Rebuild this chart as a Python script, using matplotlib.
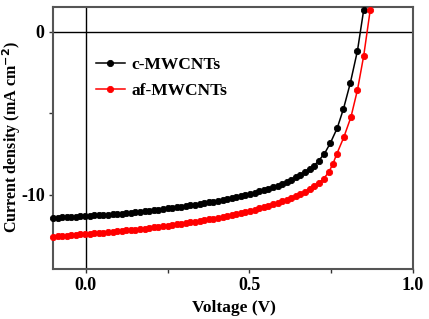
import matplotlib
matplotlib.use("Agg")
import matplotlib.pyplot as plt
from matplotlib.ticker import FixedLocator

plt.rcParams['font.family'] = ['Liberation Serif', 'DejaVu Serif']
plt.rcParams['font.weight'] = 'bold'
plt.rcParams['mathtext.default'] = 'bf'

# Data
v_c = [-0.100, -0.086, -0.072, -0.058, -0.044, -0.030, -0.016, -0.002, 0.012, 0.026,
       0.040, 0.054, 0.068, 0.082, 0.096, 0.110, 0.124, 0.138, 0.152, 0.166,
       0.180, 0.194, 0.208, 0.222, 0.236, 0.250, 0.264, 0.278, 0.292, 0.306,
       0.320, 0.334, 0.348, 0.362, 0.376, 0.390, 0.404, 0.418, 0.432, 0.446,
       0.460, 0.474, 0.488, 0.502, 0.516, 0.530, 0.544, 0.558, 0.572, 0.586,
       0.600, 0.614, 0.628, 0.642, 0.656, 0.670, 0.684, 0.698, 0.711, 0.729,
       0.747, 0.768, 0.787, 0.808, 0.830, 0.849]
j_c = [-11.41, -11.40, -11.38, -11.37, -11.35, -11.34, -11.32, -11.30, -11.29, -11.27,
       -11.25, -11.23, -11.21, -11.19, -11.17, -11.15, -11.12, -11.10, -11.07, -11.04,
       -11.01, -10.98, -10.95, -10.91, -10.88, -10.84, -10.81, -10.77, -10.73, -10.69,
       -10.65, -10.61, -10.56, -10.52, -10.47, -10.42, -10.37, -10.32, -10.26, -10.20,
       -10.14, -10.08, -10.01, -9.94, -9.87, -9.79, -9.71, -9.62, -9.53, -9.43,
       -9.32, -9.20, -9.07, -8.93, -8.78, -8.61, -8.42, -8.21, -7.91, -7.48,
       -6.83, -5.91, -4.74, -3.15, -1.15, 1.35]

v_af = [-0.100, -0.086, -0.072, -0.058, -0.044, -0.030, -0.016, -0.002, 0.012, 0.026,
        0.040, 0.054, 0.068, 0.082, 0.096, 0.110, 0.124, 0.138, 0.152, 0.166,
        0.180, 0.194, 0.208, 0.222, 0.236, 0.250, 0.264, 0.278, 0.292, 0.306,
        0.320, 0.334, 0.348, 0.362, 0.376, 0.390, 0.404, 0.418, 0.432, 0.446,
        0.460, 0.474, 0.488, 0.502, 0.516, 0.530, 0.544, 0.558, 0.572, 0.586,
        0.600, 0.614, 0.628, 0.642, 0.656, 0.670, 0.684, 0.698, 0.712, 0.727,
        0.742, 0.755, 0.767, 0.788, 0.810, 0.830, 0.849, 0.869]
j_af = [-12.56, -12.54, -12.52, -12.50, -12.48, -12.46, -12.43, -12.41, -12.39, -12.37,
        -12.35, -12.32, -12.30, -12.27, -12.25, -12.22, -12.19, -12.16, -12.13, -12.10,
        -12.07, -12.04, -12.00, -11.97, -11.93, -11.89, -11.86, -11.82, -11.78, -11.74,
        -11.69, -11.65, -11.61, -11.56, -11.51, -11.46, -11.41, -11.36, -11.30, -11.24,
        -11.18, -11.12, -11.05, -10.98, -10.91, -10.84, -10.76, -10.68, -10.59, -10.50,
        -10.40, -10.30, -10.19, -10.07, -9.94, -9.80, -9.64, -9.47, -9.27, -9.00,
        -8.62, -8.10, -7.48, -6.48, -5.23, -3.56, -1.47, 1.35]

labels = ['c-MWCNTs', 'af-MWCNTs']
colors = ['black', '#ff0000']

fig = plt.figure(figsize=(4.29, 3.19), dpi=100)
ax = fig.add_axes([0.1235, 0.157, 0.8395, 0.821])

ax.axhline(0, color='black', lw=1.0, zorder=1)
ax.axvline(0, color='black', lw=1.0, zorder=1)

for v, j, lab, c in [(v_c, j_c, labels[0], colors[0]), (v_af, j_af, labels[1], colors[1])]:
    ax.plot(v, j, '-o', color=c, lw=1.1, ms=4.5, mfc=c, mec=c, mew=0.6,
            label=lab, zorder=3, clip_on=False)

ax.set_xlim(-0.1, 1.0)
ax.set_ylim(-14.55, 1.53)
ax.xaxis.set_major_locator(FixedLocator([0.0, 0.5, 1.0]))
ax.xaxis.set_minor_locator(FixedLocator([0.25, 0.75]))
ax.yaxis.set_major_locator(FixedLocator([0, -10]))
ax.yaxis.set_minor_locator(FixedLocator([-5]))
ax.set_xticklabels(['0.0', '0.5', '1.0'])
ax.set_yticklabels(['0', '-10'])
ax.tick_params(which='both', direction='out', labelsize=13, width=1.0, color='#333333', pad=3)
ax.tick_params(which='major', length=3)
ax.tick_params(which='minor', length=3)
for lab in ax.get_xticklabels() + ax.get_yticklabels():
    lab.set_fontweight('bold')

for s in ax.spines.values():
    s.set_color('#555555')
    s.set_linewidth(1.5)

ax.set_xlabel('Voltage (V)', fontsize=12.5, fontweight='bold', color='black')
ax.xaxis.set_label_coords(0.503, -0.118)
ax.set_ylabel('Current density (mA cm$^{-2}$)', fontsize=11.5, fontweight='bold')
ax.yaxis.set_label_coords(-0.084, 0.505)

leg = ax.legend(loc='upper left', bbox_to_anchor=(0.075, 0.87), frameon=False,
                handlelength=1.7, handletextpad=0.35, labelspacing=0.6,
                prop={'weight': 'bold', 'size': 12.5})

fig.savefig('out.png', dpi=100)
